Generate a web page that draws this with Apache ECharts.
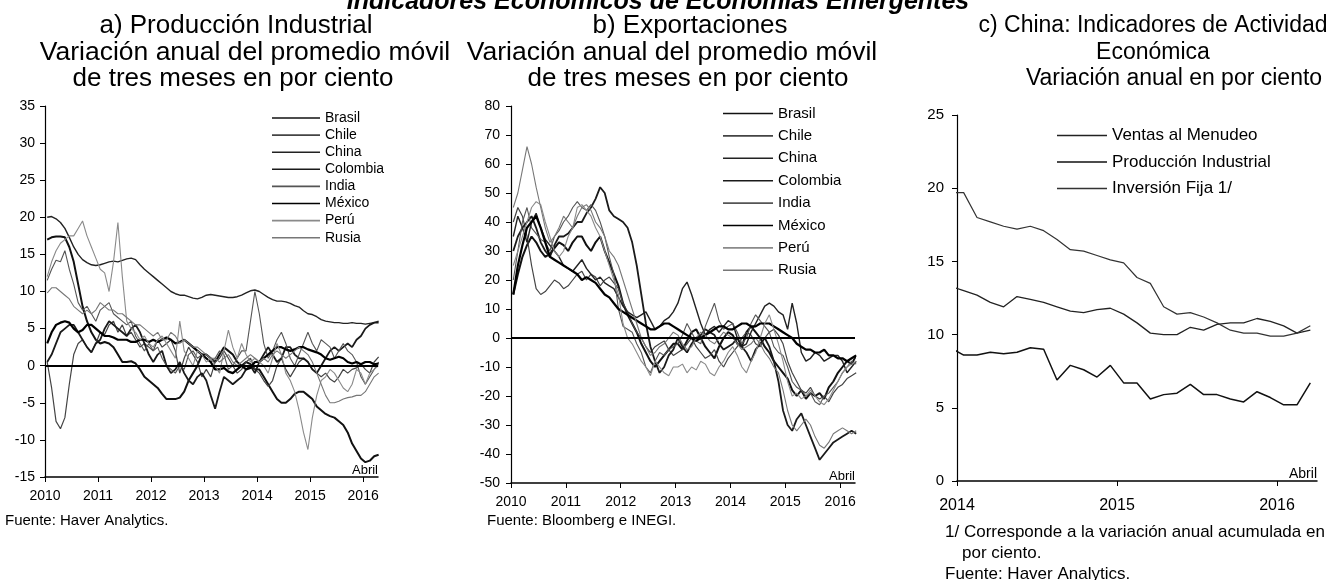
<!DOCTYPE html>
<html>
<head>
<meta charset="utf-8">
<script src="https://cdn.jsdelivr.net/npm/echarts@6.0.0/dist/echarts.min.js"></script>
<style>
  html, body { margin: 0; padding: 0; background: #fff; }
  #chart { width: 1331px; height: 580px; }
</style>
</head>
<body>
<div id="chart"></div>
<script>
// monthly points, Jan 2010 - Apr 2016 (panels a and b)
const monthsAB = [];
for (let y = 2010; y <= 2016; y++) {
  for (let m = 1; m <= 12; m++) {
    if (y === 2016 && m > 4) break;
    monthsAB.push(y + '-' + String(m).padStart(2, '0'));
  }
}
// Dec 2013 - Mar 2016 (panel c)
const monthsC = [];
for (let y = 2013; y <= 2016; y++) {
  for (let m = 1; m <= 12; m++) {
    if ((y === 2013 && m < 12) || (y === 2016 && m > 3)) continue;
    monthsC.push(y + '-' + String(m).padStart(2, '0'));
  }
}

const countries = ['Brasil', 'Chile', 'China', 'Colombia', 'India', 'México', 'Perú', 'Rusia'];
const chinaNames = ['Ventas al Menudeo', 'Producción Industrial', 'Inversión Fija 1/'];
const yearsAB = [2010, 2011, 2012, 2013, 2014, 2015, 2016];
const yearsC = [2014, 2015, 2016];

// a) Producción industrial, var. anual prom. móvil 3 meses
const ipBrasil = [17.0, 17.3, 17.4, 17.4, 17.3, 16.0, 14.0, 11.0, 8.0, 6.0, 4.5, 3.5,
  3.0, 3.2, 3.0, 2.5, 1.5, 0.5, 0.5, 0.6, 0.3, -0.5, -1.5, -2.0,
  -2.5, -3.0, -3.8, -4.5, -4.5, -4.5, -4.3, -3.5, -2.0, -1.0, 0.0, 1.5,
  1.5, 1.0, 0.5, 1.5, 2.5, 2.0, 1.5, 0.5, 0.0, 0.5, 0.2, -0.5,
  -0.5, -1.5, -2.5, -3.5, -4.5, -5.0, -5.0, -4.5, -3.8, -3.5, -3.5, -4.0,
  -4.5, -5.5, -6.0, -6.5, -6.8, -7.0, -7.5, -8.0, -9.0, -10.5, -11.5, -12.5,
  -13.0, -12.8, -12.2, -12.0];
const ipChile = [0.5, -3.0, -7.5, -8.5, -7.0, -2.5, 1.5, 3.0, 3.5, 2.5, 1.8, 3.0,
  4.5, 4.2, 5.5, 6.0, 4.5, 5.5, 4.0, 4.5, 3.5, 2.5, 3.0, 2.5,
  2.0, 3.5, 2.5, 3.0, 3.5, 2.0, -1.0, 1.0, 2.5, 1.5, 0.5, -1.5,
  -0.5, -1.5, 0.5, 1.0, 2.0, 1.0, 0.0, -1.0, -0.5, 0.5, 1.0, -0.5,
  -1.0, -2.0, -2.8, -2.0, 0.0, 1.0, -0.5, -1.5, -0.5, 0.5, 1.0, 0.5,
  -0.5, -1.0, -1.5, -1.0, -1.8, -2.2, -1.5, -0.5, -1.0, -0.5, -0.3, 0.2,
  -0.5, -1.0, 0.5, 1.2];
const ipChina = [20.0, 20.1, 19.8, 19.3, 18.5, 17.3, 16.0, 15.0, 14.3, 13.9, 13.6, 13.5,
  13.6, 13.8, 14.0, 14.1, 14.0, 14.2, 14.4, 14.5, 14.3, 13.6, 13.0, 12.5,
  12.0, 11.5, 11.0, 10.5, 10.0, 9.7, 9.5, 9.5, 9.3, 9.1, 9.0, 9.2,
  9.5, 9.6, 9.5, 9.4, 9.3, 9.2, 9.2, 9.3, 9.5, 9.8, 10.1, 10.2,
  10.0, 9.6, 9.2, 8.9, 8.7, 8.7, 8.6, 8.4, 8.1, 7.9, 7.4, 7.0,
  6.9, 6.6, 6.2, 6.0, 5.9, 5.8, 5.8, 5.7, 5.7, 5.8, 5.7, 5.7,
  5.6, 5.7, 5.8, 6.0];
const ipColombia = [0.5, 1.5, 3.0, 4.5, 5.0, 5.5, 5.5, 4.5, 3.5, 2.5, 1.8, 3.0,
  3.5, 5.0, 6.0, 5.5, 5.0, 4.5, 4.0, 5.0, 5.5, 4.5, 3.0, 1.5,
  0.5, 1.5, 2.0, 0.0, -1.0, -0.5, 0.5, -1.0, -2.0, -2.5, -1.5, -1.0,
  -2.0, -4.0, -5.8, -3.5, -1.5, -2.0, -2.5, -2.0, -1.5, -0.5, 0.0, -1.0,
  0.5, 1.5, 2.5, 1.5, 0.5, 1.0, 2.5, 2.5, 1.5, 1.0, 1.0, 0.5,
  -0.5, -1.0, 0.0, 1.0, 2.0, 2.5, 2.0, 2.5, 3.0, 2.5, 3.5, 4.0,
  5.0, 5.5, 5.8, 5.8];
const ipIndia = [11.5, 13.0, 14.2, 14.0, 15.5, 13.0, 11.0, 8.5, 7.5, 8.0, 7.0, 6.0,
  7.5, 8.0, 8.5, 7.0, 6.5, 6.0, 5.5, 6.0, 4.0, 3.0, 2.0, 3.0,
  2.0, 2.5, 1.0, 0.0, -0.5, -1.0, 0.0, -0.5, 1.5, 2.0, 1.0, 1.5,
  1.0, 0.5, 1.0, 2.0, 1.5, -0.5, 0.0, 1.0, 2.0, 2.0, 6.0, 10.0,
  7.0, 3.0, 1.0, 2.0, 3.5, 4.5, 3.0, 1.0, 0.0, 1.5, 3.0, 4.5,
  3.0, 2.0, 3.5, 3.0, 2.5, 1.0, 2.0, 3.0, 2.0, 1.5, 0.5, -1.5,
  -2.5, -1.5, -0.5, 0.5];
const ipMexico = [3.0, 4.5, 5.5, 5.8, 6.0, 5.8, 5.0, 4.5, 4.8, 5.5, 5.5, 5.0,
  4.5, 4.0, 4.0, 3.8, 3.5, 3.5, 3.5, 3.2, 3.2, 3.5, 3.5, 3.2,
  3.5, 3.2, 3.5, 3.8, 3.5, 3.0, 3.2, 3.5, 3.0, 2.5, 2.0, 1.5,
  1.0, 0.5, -0.5, -0.5, -0.3, -0.8, -1.0, -0.5, 0.0, -0.5, -0.3, 0.5,
  0.5, 1.0, 1.5, 2.0, 2.5, 2.5, 2.2, 2.0, 2.2, 2.5, 2.5, 2.2,
  2.0, 1.8, 1.5, 1.0, 0.8, 1.0, 1.2, 1.0, 0.5, 0.3, 0.5, 0.2,
  0.5, 0.5, 0.2, 0.3];
const ipPeru = [12.0, 14.0, 15.5, 16.5, 17.0, 17.5, 17.5, 18.5, 19.5, 17.5, 16.0, 14.5,
  13.0, 12.5, 10.0, 14.0, 19.3, 12.0, 6.0, 5.0, 4.5, 3.5, 4.0, 3.0,
  2.5, 3.5, 4.0, 3.0, 2.0, 1.0, 6.0, 2.0, 1.0, 0.0, 2.0, 1.5,
  0.5, 1.0, 0.0, -1.0, 2.0, 4.8, 2.5, 1.0, 3.0, 1.5, 0.5, 1.0,
  0.5, 0.0, -1.0, 1.0, 3.0, 1.5, -1.0, -2.0, -3.5, -6.0, -9.0, -11.3,
  -7.0, -4.0, -2.0, -1.5, -0.5, -1.0, -2.0, -3.0, -3.5, -2.5, -0.5, -1.0,
  -2.5, -1.0, -0.5, 0.0];
const ipRusia = [9.8, 10.5, 10.5, 10.0, 9.5, 9.0, 8.0, 7.5, 7.0, 7.5, 7.0, 7.5,
  8.5, 8.0, 7.5, 7.5, 7.0, 7.0, 6.5, 6.0, 5.5, 5.5, 5.0, 4.5,
  4.0, 4.5, 3.5, 3.5, 4.5, 4.0, 3.0, 3.5, 3.0, 2.5, 2.5, 2.0,
  1.5, 1.0, 1.0, 0.5, 1.0, 1.5, 0.5, 0.0, 0.5, 1.0, 1.5, 1.0,
  0.5, 1.0, 0.5, 1.5, 2.0, 1.5, 1.0, 1.5, 2.0, 2.5, 2.0, 1.5,
  0.5, -1.0, -2.5, -4.0, -5.0, -5.0, -4.8, -4.5, -4.3, -4.2, -4.0, -4.0,
  -3.5, -2.5, -1.5, -1.0];

// b) Exportaciones, var. anual prom. móvil 3 meses
const exBrasil = [15, 22, 28, 32, 35, 33, 30, 28, 29, 31, 33, 32,
  30, 33, 35, 35, 32, 30, 33, 35, 30, 26, 22, 18,
  12, 8, 5, 2, -2, -5, -8, -10, -8, -6, -4, -2,
  -2, -4, -1, 2, 3, 0, -3, -5, -7, -3, 0, 2,
  1, -2, -3, 2, 4, 2, 0, -3, -5, -8, -10, -12,
  -14, -18, -20, -18, -21, -19, -20, -19, -21, -17, -15, -12,
  -10, -8, -9, -6];
const exChile = [40, 45, 42, 35, 25, 17, 15, 16, 18, 20, 19, 17,
  18, 20, 22, 23, 20, 22, 21, 18, 20, 21, 19, 17,
  12, 9, 5, 2, 0, -3, -5, -3, -2, -1, -4, -6,
  -5, -4, -2, 0, -3, -5, -7, -6, -4, -8, -10, -7,
  -5, -3, 0, 2, 1, -2, -3, 0, 2, 3, 1, -2,
  -8, -12, -15, -18, -19, -17, -20, -21, -20, -22, -19, -17,
  -16, -14, -13, -12];
const exChina = [35, 42, 38, 33, 40, 43, 38, 34, 32, 30, 28, 25,
  24, 23, 25, 27, 24, 22, 20, 21, 19, 18, 17, 14,
  11, 9, 8, 7, 8, 9, 6, 3, 4, 6, 7, 9,
  12, 17, 19.3, 15, 10, 5, 1, 3, 4, 2, 4, 6,
  5, 0, -3, -2, 2, 5, 8, 11, 12, 11, 9, 8,
  3, 12, 5, -5, -8, -7, -5, -6, -8, -7, -6, -6,
  -8, -12, -10, -8];
const exColombia = [30, 35, 38, 40, 42, 38, 33, 30, 28, 32, 35, 35,
  36, 38, 40, 40, 43, 45, 48, 52, 50, 44, 42, 41,
  40, 38, 33, 25, 15, 5, -3, -8, -12, -10, -6, -4,
  0, -3, -5, -2, 0, 1, 3, 2, 1, -2, -4, -3,
  -2, 0, -3, -5, -8, -4, -2, 0, -3, -8, -15, -25,
  -30, -32, -28, -26, -30, -34, -38, -42, -40, -38, -36, -35,
  -34, -33, -32, -33];
const exIndia = [20, 30, 40, 45, 38, 36, 34, 33, 30, 35, 37, 40,
  42, 45, 47, 45, 44, 46, 44, 40, 35, 28, 22, 10,
  4, 3, 2, -2, -5, -10, -12, -8, -5, -6, -4, -3,
  -2, 1, 5, 2, -1, -2, 4, 8, 12, 6, 3, 4,
  5, 2, -2, 0, 5, 8, 6, 4, 2, -3, -5, -6,
  -10, -15, -17, -18, -20, -19, -22, -23, -20, -19, -17, -15,
  -12, -10, -8, -9];
const exMexico = [15, 25, 32, 38, 40, 42, 38, 33, 28, 27, 26, 25,
  24, 23, 22, 20, 21, 20, 19, 17, 15, 14, 12, 10,
  9, 8, 7, 6, 5, 4, 3, 3, 4, 5, 5, 4,
  3, 2, 1, 0, -1, 0, 1, 2, 3, 4, 4, 3,
  3, 4, 5, 5, 4, 4, 5, 5, 5, 4, 3, 2,
  1, 0, -2, -3, -4, -4, -5, -5, -4, -6, -6, -7,
  -7, -8, -7, -6];
const exPeru = [25, 30, 35, 40, 45, 47, 46, 40, 35, 30, 28, 30,
  35, 38, 45, 46, 44, 42, 38, 35, 30, 25, 20, 15,
  5, 0, -2, -5, -8, -10, -13, -8, -10, -12, -13, -10,
  -10, -9, -12, -10, -11, -8, -9, -12, -13, -10, -8, -5,
  -3, -6, -10, -12, -8, -5, 0, 5, 8, 3, -2, -8,
  -15, -20, -19, -21, -20, -18, -20, -22, -23, -21, -18, -15,
  -12, -10, -9, -8];
const exRusia = [45, 50, 58, 66, 60, 52, 45, 38, 33, 35, 38, 42,
  40, 38, 42, 45, 46, 44, 40, 38, 35, 30, 28, 25,
  20, 15, 10, 5, 0, -3, -6, -5, -3, -2, 0, 2,
  1, -2, -4, -3, 0, 2, 1, -1, -2, 0, 2, 1,
  0, -2, -4, -3, -2, 0, -2, -5, -7, -10, -12, -18,
  -25, -30, -32, -30, -28, -30, -34, -37, -38, -36, -33, -32,
  -31, -32, -33, -32];

// c) China: indicadores de actividad, var. anual
const cnVentas = [13.3, 13.0, 12.7, 12.2, 11.9, 12.6, 12.4, 12.2, 11.9, 11.6, 11.5, 11.7, 11.8,
  11.4, 10.8, 10.1, 10.0, 10.0, 10.5, 10.3, 10.7, 10.8, 10.8, 11.1, 10.9,
  10.6, 10.1, 10.3];
const cnProduccion = [9.1, 8.6, 8.6, 8.8, 8.7, 8.8, 9.1, 9.0, 6.9, 7.9, 7.6, 7.1, 7.9,
  6.7, 6.7, 5.6, 5.9, 6.0, 6.6, 5.9, 5.9, 5.6, 5.4, 6.1, 5.7,
  5.2, 5.2, 6.7];
const cnInversion = [19.7, 19.7, 18.0, 17.7, 17.4, 17.2, 17.4, 17.1, 16.5, 15.8, 15.7, 15.4, 15.1,
  14.9, 13.9, 13.5, 11.9, 11.4, 11.5, 11.2, 10.8, 10.3, 10.1, 10.1, 9.9,
  9.9, 10.1, 10.6];

const ipData = [ipBrasil, ipChile, ipChina, ipColombia, ipIndia, ipMexico, ipPeru, ipRusia];
const exData = [exBrasil, exChile, exChina, exColombia, exIndia, exMexico, exPeru, exRusia];
const cnData = [cnVentas, cnProduccion, cnInversion];

const FONT = 'Liberation Sans, Arial, sans-serif';
const lineStyles = {
  'Brasil':   { color: '#111', width: 2 },
  'Chile':    { color: '#444', width: 1.2 },
  'China':    { color: '#222', width: 1.4 },
  'Colombia': { color: '#1a1a1a', width: 1.8 },
  'India':    { color: '#555', width: 1.1 },
  'México':   { color: '#000', width: 2.2 },
  'Perú':     { color: '#8a8a8a', width: 1.1 },
  'Rusia':    { color: '#777', width: 1.1 },
  'Ventas al Menudeo':     { color: '#222', width: 1.3 },
  'Producción Industrial': { color: '#111', width: 1.5 },
  'Inversión Fija 1/':     { color: '#333', width: 1.2 }
};

// month 'YYYY-MM' -> decimal year at mid-month
function toYear(s) {
  const p = s.split('-');
  return +p[0] + (+p[1] - 0.5) / 12;
}

function makeSeries(name, months, values, idx) {
  const style = lineStyles[name];
  return {
    name: name, type: 'line', xAxisIndex: idx, yAxisIndex: idx,
    symbol: 'none', smooth: false, clip: true, animation: false,
    lineStyle: style, itemStyle: { color: style.color },
    data: months.map((m, i) => [toYear(m), values[i]])
  };
}

const zeroLine = {
  silent: true, symbol: ['none', 'none'], label: { show: false },
  lineStyle: { color: '#000', width: 2, type: 'solid' },
  data: [{ yAxis: 0 }], animation: false
};

const series = [];
countries.forEach((c, i) => series.push(makeSeries(c, monthsAB, ipData[i], 0)));
countries.forEach((c, i) => series.push(makeSeries(c, monthsAB, exData[i], 1)));
series[2].markLine = zeroLine;
series[10].markLine = zeroLine;
chinaNames.forEach((c, i) => series.push(makeSeries(c, monthsC, cnData[i], 2)));

function xAxisFor(idx, min, max, years, fs, margin) {
  return {
    type: 'value', gridIndex: idx, min: min, max: max, interval: 1,
    axisLine: { show: true, onZero: false, lineStyle: { color: '#000', width: 1.5 } },
    axisTick: { show: true, inside: false, length: 5, customValues: years, lineStyle: { color: '#000' } },
    axisLabel: { customValues: years, margin: margin, fontSize: fs, color: '#000', fontFamily: FONT,
      formatter: v => String(Math.round(v)) },
    splitLine: { show: false }
  };
}
function yAxisFor(idx, min, max, interval, fs, margin) {
  return {
    type: 'value', gridIndex: idx, min: min, max: max, interval: interval,
    axisLine: { show: true, onZero: false, lineStyle: { color: '#000', width: 1.2 } },
    axisTick: { show: true, inside: false, length: 5, lineStyle: { color: '#000' } },
    axisLabel: { margin: margin, fontSize: fs, color: '#000', fontFamily: FONT },
    splitLine: { show: false }
  };
}

function txt(x, y, text, size, align) {
  return {
    type: 'text', x: x, y: y, silent: true,
    style: { text: text, fontSize: size, fontFamily: FONT, fill: '#000',
      textAlign: align || 'center', textVerticalAlign: 'middle' }
  };
}

const mainTitle = txt(658, 2, 'Indicadores Económicos de Economías Emergentes', 25);
mainTitle.style.fontStyle = 'italic';
mainTitle.style.fontWeight = 'bold';

const graphics = [
  mainTitle,
  txt(236, 26, 'a) Producción Industrial', 26),
  txt(245, 53, 'Variación anual del promedio móvil', 26.5),
  txt(233, 79, 'de tres meses en por ciento', 26),
  txt(690, 26, 'b) Exportaciones', 26),
  txt(672, 53, 'Variación anual del promedio móvil', 26.5),
  txt(688, 79, 'de tres meses en por ciento', 26),
  txt(1153, 26, 'c) China: Indicadores de Actividad', 23),
  txt(1153, 53, 'Económica', 23),
  txt(1174, 79, 'Variación anual en por ciento', 23),
  txt(378, 470, 'Abril', 13, 'right'),
  txt(855, 476, 'Abril', 13, 'right'),
  txt(1317, 474, 'Abril', 14, 'right'),
  txt(5, 521, 'Fuente: Haver Analytics.', 15, 'left'),
  txt(487, 521, 'Fuente: Bloomberg e INEGI.', 15, 'left'),
  txt(945, 532, '1/ Corresponde a la variación anual acumulada en', 17, 'left'),
  txt(962, 553, 'por ciento.', 17, 'left'),
  txt(945, 574, 'Fuente: Haver Analytics.', 17, 'left')
];

function legendFor(names, left, top, w, gap, fs) {
  return {
    data: names, orient: 'vertical', left: left, top: top, padding: 0,
    icon: 'rect', itemWidth: w, itemHeight: 1.6, itemGap: gap, selectedMode: false,
    textStyle: { fontSize: fs, color: '#000', fontFamily: FONT }
  };
}

const option = {
  backgroundColor: '#fff',
  animation: false,
  grid: [
    { left: 45, top: 106, width: 333, height: 371, outerBoundsMode: 'none' },
    { left: 511, top: 106, width: 344, height: 377, outerBoundsMode: 'none' },
    { left: 957, top: 115, width: 360, height: 366, outerBoundsMode: 'none' }
  ],
  xAxis: [
    xAxisFor(0, 2010, 2016.28, yearsAB, 14, 12),
    xAxisFor(1, 2010, 2016.27, yearsAB, 14, 12),
    xAxisFor(2, 2014, 2016.25, yearsC, 16, 17)
  ],
  yAxis: [
    yAxisFor(0, -15, 35, 5, 14, 10),
    yAxisFor(1, -50, 80, 10, 14, 11),
    yAxisFor(2, 0, 25, 5, 15, 13)
  ],
  legend: [
    legendFor(countries, 272, 111, 48, 3.1, 14),
    legendFor(countries, 723, 106, 50, 7.4, 15),
    legendFor(chinaNames, 1057, 127, 50, 9.5, 17)
  ],
  graphic: graphics,
  series: series
};

const chart = echarts.init(document.getElementById('chart'), null, { renderer: 'canvas' });
chart.setOption(option);
</script>
</body>
</html>
